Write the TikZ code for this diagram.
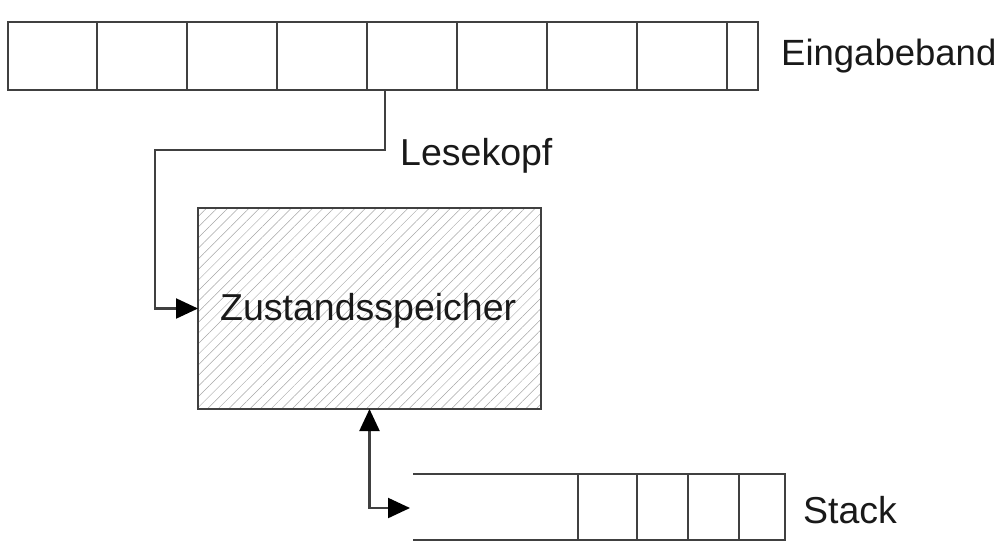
\documentclass[tikz,border=0pt]{standalone}
\usepackage{fontspec}
\setmainfont{Liberation Sans}
\usetikzlibrary{patterns.meta,arrows.meta}
\begin{document}
\begin{tikzpicture}[x=1pt,y=-1pt,
  ln/.style={draw=black!75,line width=2.2pt},
  cell/.style={ln,rectangle,inner sep=0pt,outer sep=0pt,minimum height=68pt,anchor=north west},
  scell/.style={ln,rectangle,inner sep=0pt,outer sep=0pt,minimum height=66pt,anchor=north west},
  lbl/.style={inner sep=0pt,anchor=base west,text=black!90,font=\fontsize{37.5}{42}\selectfont},
  arr/.style={ln,-{Triangle[length=22pt,width=20pt,color=black]}},
  darr/.style={ln,{Triangle[length=22pt,width=20pt,color=black]}-{Triangle[length=22pt,width=20pt,color=black]}},
]
\useasboundingbox (0,0) rectangle (1002,542);
% tape
\node[cell,minimum width=89pt] (c1) at (8,22) {};
\node[cell,minimum width=90pt] (c2) at (97,22) {};
\node[cell,minimum width=90pt] (c3) at (187,22) {};
\node[cell,minimum width=90pt] (c4) at (277,22) {};
\node[cell,minimum width=90pt] (c5) at (367,22) {};
\node[cell,minimum width=90pt] (c6) at (457,22) {};
\node[cell,minimum width=90pt] (c7) at (547,22) {};
\node[cell,minimum width=90pt] (c8) at (637,22) {};
\node[cell,minimum width=31pt] (c9) at (727,22) {};
\node[lbl,font=\fontsize{36.5}{42}\selectfont] (band) at (781,65) {Eingabeband};
% state box
\node[ln,rectangle,inner sep=0pt,outer sep=0pt,minimum width=343pt,minimum height=201pt,
  pattern={Lines[angle=45,distance=7.5pt,line width=0.5pt]},pattern color=black!35] (zs) at (369.5,308.5) {};
\node[lbl] (zstext) at (220,320) {Zustandsspeicher};
% read head
\coordinate (kopf) at (385,90);
\node[lbl] (lese) at (400,165) {Lesekopf};
\draw[arr] (kopf) |- (155,150) |- (zs.west);
% stack
\coordinate (stl) at (413,474);
\coordinate (sbl) at (413,540);
\node[scell,minimum width=59pt] (s1) at (578,474) {};
\node[scell,minimum width=51pt] (s2) at (637,474) {};
\node[scell,minimum width=51pt] (s3) at (688,474) {};
\node[scell,minimum width=46pt] (s4) at (739,474) {};
\draw[ln] (stl) -- (s1.north west);
\draw[ln] (sbl) -- (s1.south west);
\coordinate (sin) at (410,508);
\draw[darr] (zs.south) |- (sin);
\node[lbl] (stack) at (803,523) {Stack};
\end{tikzpicture}
\end{document}
